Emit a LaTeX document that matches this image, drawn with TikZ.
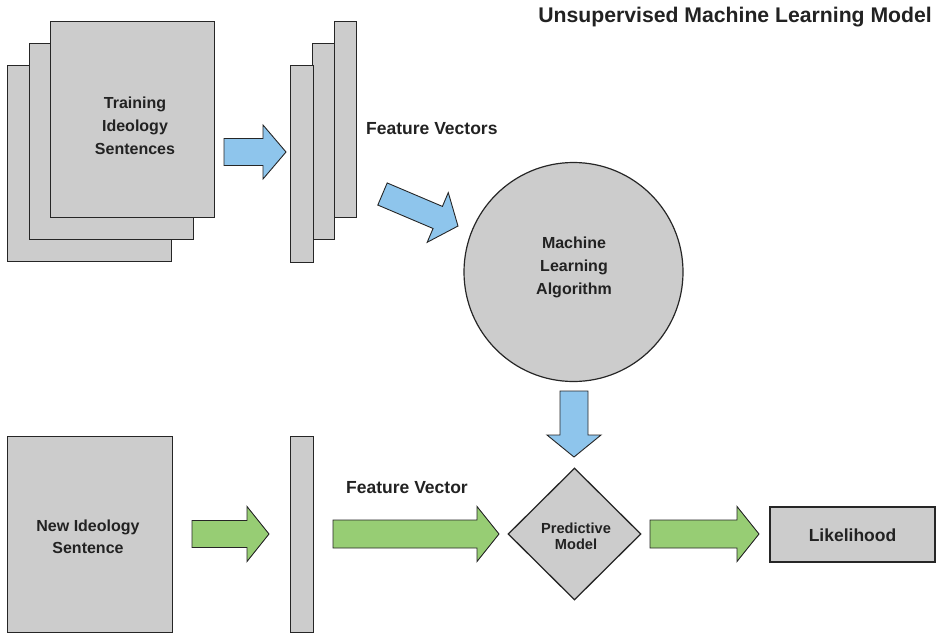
\documentclass[tikz,border=0pt]{standalone}
\usepackage{fontspec}
\setmainfont{Liberation Sans}
\usetikzlibrary{shapes.geometric}
\definecolor{boxgray}{HTML}{CCCCCC}
\definecolor{edgegray}{HTML}{262626}
\definecolor{flowblue}{HTML}{8EC5EC}
\definecolor{flowgreen}{HTML}{97CD74}
\definecolor{inkcol}{HTML}{222222}
\tikzset{
  sheet/.style={draw=edgegray, fill=boxgray, line width=1.3pt, rectangle,
    inner sep=0pt, anchor=north west},
  lbl/.style={text=inkcol, font=\bfseries\fontsize{16}{23}\selectfont, align=center, inner sep=0pt},
  caption/.style={text=inkcol, font=\bfseries\fontsize{17.5}{21}\selectfont, inner sep=0pt},
  fatstyle/.style={draw=edgegray, line width=0.9pt, line join=miter},
  % block arrow along +x: total length / head length / shaft half width / head half width
  pics/fatarrow/.style args={#1/#2/#3/#4}{code={
    \draw[fatstyle, pic actions] (0,-#3) -- (#1-#2,-#3) -- (#1-#2,-#4) -- (#1,0)
      -- (#1-#2,#4) -- (#1-#2,#3) -- (0,#3) -- cycle;
  }}
}
\begin{document}
\begin{tikzpicture}[x=1pt, y=-1pt]
\useasboundingbox (0,0) rectangle (936,634);

% title
\node[text=inkcol, font=\bfseries\fontsize{21.2}{25}\selectfont, inner sep=0pt, anchor=base east]
  (title) at (932,23) {Unsupervised Machine Learning Model};

% stack of training documents
\node[sheet, minimum width=164pt, minimum height=196pt] (docC) at (7,65) {};
\node[sheet, minimum width=164pt, minimum height=196pt] (docB) at (29,43) {};
\node[sheet, minimum width=164pt, minimum height=196pt] (docA) at (50,21) {};
\node[lbl] (doclbl) at (135,126) {Training\\Ideology\\Sentences};

% stack of feature vectors
\node[sheet, minimum width=22pt, minimum height=196pt] (vecC) at (334,21) {};
\node[sheet, minimum width=22pt, minimum height=196pt] (vecB) at (312,43) {};
\node[sheet, minimum width=23pt, minimum height=197pt] (vecA) at (290,65) {};
\node[caption, anchor=base west] (veclbl) at (366,134) {Feature Vectors};

% learning algorithm
\node[circle, draw=edgegray, fill=boxgray, line width=1.2pt, minimum size=219pt, inner sep=0pt]
  (algo) at (573.5,272) {};
\node[lbl] (algolbl) at (574,267) {Machine\\Learning\\Algorithm};

% new sentence and its feature vector
\node[sheet, minimum width=165pt, minimum height=196pt] (newdoc) at (7,436) {};
\node[lbl, font=\bfseries\fontsize{16}{21.5}\selectfont] (newlbl) at (88,537) {New Ideology\\Sentence};
\node[sheet, minimum width=23pt, minimum height=196pt] (newvec) at (290,436) {};
\node[caption, anchor=base west] (newveclbl) at (346,493) {Feature Vector};

% predictive model
\node[diamond, draw=edgegray, fill=boxgray, line width=1.3pt, minimum width=133pt,
  minimum height=132pt, inner sep=0pt] (model) at (574.5,534) {};
\node[lbl, font=\bfseries\fontsize{14.6}{16.3}\selectfont] (modellbl) at (576,536) {Predictive\\Model};

% output
\node[sheet, anchor=center, line width=1.4pt, minimum width=165pt, minimum height=55pt]
  (out) at (852.5,534.5) {};
\node[caption] (outlbl) at (852.5,535) {Likelihood};

% block arrows of the training path
\pic[fill=flowblue] at (224,152) {fatarrow={62/23/13.5/27}};
\pic[fill=flowblue, rotate=-23] at (382.5,194) {fatarrow={82/22/12/27}};
\pic[fill=flowblue, rotate=-90] at (574,391) {fatarrow={66/22/14/27}};

% block arrows of the prediction path
\pic[fill=flowgreen] at (192,534) {fatarrow={77/22/13.5/27.5}};
\pic[fill=flowgreen] at (333,534) {fatarrow={166/22/14/27.5}};
\pic[fill=flowgreen] at (650,534) {fatarrow={109/22/14/27.5}};
\end{tikzpicture}
\end{document}
